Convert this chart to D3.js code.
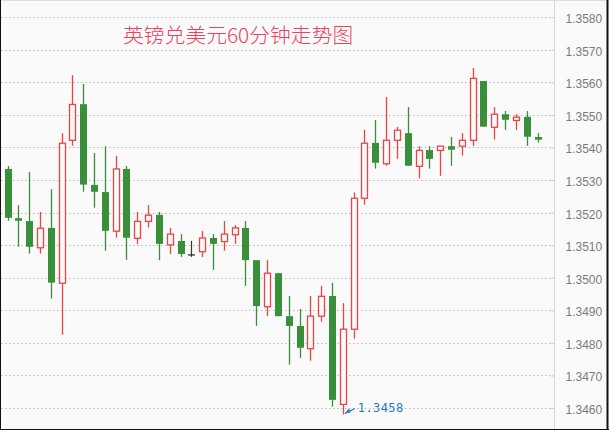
<html>
<head>
<meta charset="utf-8">
<style>
  body { margin: 0; background: #fff; }
  svg { display: block; }
  .tick text { font-family: Arial, "Liberation Sans", sans-serif; font-size: 12px; fill: #7a7a7a; }
</style>
<script src="https://d3js.org/d3.v7.min.js"></script>
</head>
<body>
<div id="chart"></div>
<script>
// GBP/USD hourly candles
var open  = [1.35334, 1.35183, 1.35174, 1.35092, 1.35153, 1.34983, 1.35422, 1.35533, 1.35285, 1.35263,
             1.35143, 1.35334, 1.35121, 1.35173, 1.35193, 1.35101, 1.35113, 1.35070, 1.35080, 1.35122,
             1.35111, 1.35132, 1.35153, 1.35054, 1.34911, 1.35014, 1.34882, 1.34852, 1.34782, 1.34882,
             1.34944, 1.34611, 1.34842, 1.35244, 1.35414, 1.35350, 1.35422, 1.35444, 1.35342, 1.35392,
             1.35391, 1.35404, 1.35404, 1.35422, 1.35604, 1.35462, 1.35502, 1.35483, 1.35494, 1.35432];
var high  = [1.35343, 1.35223, 1.35325, 1.35202, 1.35272, 1.35444, 1.35622, 1.35595, 1.35383, 1.35404,
             1.35374, 1.35343, 1.35202, 1.35223, 1.35202, 1.35153, 1.35134, 1.35113, 1.35143, 1.35134,
             1.35174, 1.35162, 1.35174, 1.35054, 1.35054, 1.35014, 1.34944, 1.34904, 1.34944, 1.34975,
             1.34984, 1.34922, 1.35262, 1.35454, 1.35484, 1.35555, 1.35463, 1.35524, 1.35404, 1.35404,
             1.35404, 1.35432, 1.35444, 1.35644, 1.35604, 1.35524, 1.35512, 1.35502, 1.35512, 1.35444];
var low   = [1.35175, 1.35095, 1.35074, 1.35074, 1.34936, 1.34825, 1.35405, 1.35264, 1.35215, 1.35083,
             1.35123, 1.35055, 1.35104, 1.35154, 1.35054, 1.35073, 1.35064, 1.35064, 1.35064, 1.35024,
             1.35083, 1.35104, 1.34975, 1.34852, 1.34882, 1.34882, 1.34733, 1.34754, 1.34745, 1.34865,
             1.34604, 1.34580, 1.34813, 1.35224, 1.35335, 1.35344, 1.35365, 1.35344, 1.35305, 1.35335,
             1.35313, 1.35344, 1.35375, 1.35405, 1.35464, 1.35424, 1.35454, 1.35454, 1.35405, 1.35415];
var close = [1.35184, 1.35175, 1.35095, 1.35152, 1.34985, 1.35413, 1.35532, 1.35286, 1.35264, 1.35144,
             1.35334, 1.35123, 1.35173, 1.35192, 1.35104, 1.35134, 1.35073, 1.35070, 1.35122, 1.35104,
             1.35134, 1.35153, 1.35054, 1.34913, 1.35014, 1.34882, 1.34852, 1.34785, 1.34882, 1.34943,
             1.34625, 1.34842, 1.35244, 1.35413, 1.35353, 1.35422, 1.35453, 1.35344, 1.35391, 1.35365,
             1.35404, 1.35393, 1.35422, 1.35612, 1.35464, 1.35502, 1.35485, 1.35493, 1.35433, 1.35424];
var yTicks = [1.3460, 1.3470, 1.3480, 1.3490, 1.3500, 1.3510, 1.3520, 1.3530, 1.3540, 1.3550, 1.3560, 1.3570, 1.3580];
var title = "英镑兑美元60分钟走势图";
var lowLabel = "1.3458";

var width = 609, height = 430;
var upColor = "#e84545", downColor = "#3a903a";

var svg = d3.select("#chart").append("svg").attr("width", width).attr("height", height);
svg.append("rect").attr("width", width).attr("height", height).attr("fill", "#fafafa");

var x = d3.scaleLinear().domain([0, open.length - 1]).range([7.5, 537.5]);
var y = d3.scaleLinear().domain([1.3460, 1.3580]).range([408, 17.2]);

// grid
svg.append("g").selectAll("line").data(yTicks).enter().append("line")
   .attr("x1", 1).attr("x2", 550)
   .attr("y1", function(d) { return Math.round(y(d)) + 0.5; })
   .attr("y2", function(d) { return Math.round(y(d)) + 0.5; })
   .attr("stroke", "#b8b8b8").attr("stroke-width", 1.2).attr("stroke-dasharray", "1.5,2.5");

// right axis
var yAxis = d3.axisRight(y).tickValues(yTicks).tickFormat(d3.format(".4f")).tickSize(3).tickPadding(8);
var ax = svg.append("g").attr("transform", "translate(554.5,0)").call(yAxis);
ax.select(".domain").remove();
ax.selectAll(".tick line").attr("stroke", "#ccc").attr("x1", -4).attr("x2", 0);
ax.selectAll(".tick text").attr("dy", "0.45em");
svg.append("line").attr("x1", 554.5).attr("x2", 554.5).attr("y1", 0).attr("y2", height)
   .attr("stroke", "#d4d4d4");

// candles
var idx = d3.range(open.length);
var g = svg.append("g");
idx.forEach(function(i) {
  var cx = Math.round(x(i)) + 0.5;
  var o = open[i], c = close[i];
  var top = y(Math.max(o, c)), bot = y(Math.min(o, c));
  if (Math.abs(o - c) < 0.00002) {
    g.append("line").attr("x1", cx).attr("x2", cx).attr("y1", y(high[i])).attr("y2", y(low[i]))
     .attr("stroke", "#333").attr("stroke-width", 1.2);
    g.append("line").attr("x1", cx - 3.5).attr("x2", cx + 3.5).attr("y1", y(o)).attr("y2", y(o))
     .attr("stroke", "#333").attr("stroke-width", 1.3);
  } else if (c > o) {
    g.append("line").attr("x1", cx).attr("x2", cx).attr("y1", y(high[i])).attr("y2", top)
     .attr("stroke", upColor).attr("stroke-width", 1.3);
    g.append("line").attr("x1", cx).attr("x2", cx).attr("y1", bot).attr("y2", y(low[i]))
     .attr("stroke", upColor).attr("stroke-width", 1.3);
    g.append("rect").attr("x", cx - 3).attr("y", top).attr("width", 6).attr("height", bot - top)
     .attr("fill", "#fafafa").attr("stroke", upColor).attr("stroke-width", 1.3);
  } else {
    g.append("line").attr("x1", cx).attr("x2", cx).attr("y1", y(high[i])).attr("y2", y(low[i]))
     .attr("stroke", downColor).attr("stroke-width", 1.3);
    g.append("rect").attr("x", cx - 3.5).attr("y", top).attr("width", 7).attr("height", Math.max(1.5, bot - top))
     .attr("fill", downColor);
  }
});

// lowest point marker
var li = d3.minIndex(low);
var lx = x(li), ly = y(low[li]);
svg.append("path").attr("d", "M" + (lx + 2) + "," + (ly - 1) + " L" + (lx + 12) + "," + (ly - 6))
   .attr("stroke", "#2a78d4").attr("stroke-width", 1.3).attr("fill", "none");
svg.append("path").attr("d", "M" + (lx + 2) + "," + (ly - 1) + " l4,-5 l2,4 z").attr("fill", "#2a78d4");
svg.append("text").attr("x", lx + 15).attr("y", ly - 3)
   .attr("font-family", "DejaVu Sans Mono, monospace").attr("font-size", 12)
   .attr("letter-spacing", 0.4)
   .attr("fill", "#2a78d4").text(lowLabel);

// title
svg.append("text").attr("x", 123).attr("y", 43)
   .attr("font-family", "Noto Sans CJK SC, sans-serif").attr("font-size", 20.8)
   .attr("font-weight", 300)
   .attr("fill", "#f0405e").text(title);

// frame
svg.append("line").attr("x1", 0).attr("x2", width).attr("y1", 0.5).attr("y2", 0.5).attr("stroke", "#ddd");
svg.append("line").attr("x1", 0.5).attr("x2", 0.5).attr("y1", 0).attr("y2", height).attr("stroke", "#111");
svg.append("line").attr("x1", 607.5).attr("x2", 607.5).attr("y1", 0).attr("y2", height).attr("stroke", "#111").attr("stroke-width", 2);
svg.append("line").attr("x1", 0).attr("x2", width).attr("y1", 429.5).attr("y2", 429.5).attr("stroke", "#111");
</script>
</body>
</html>
